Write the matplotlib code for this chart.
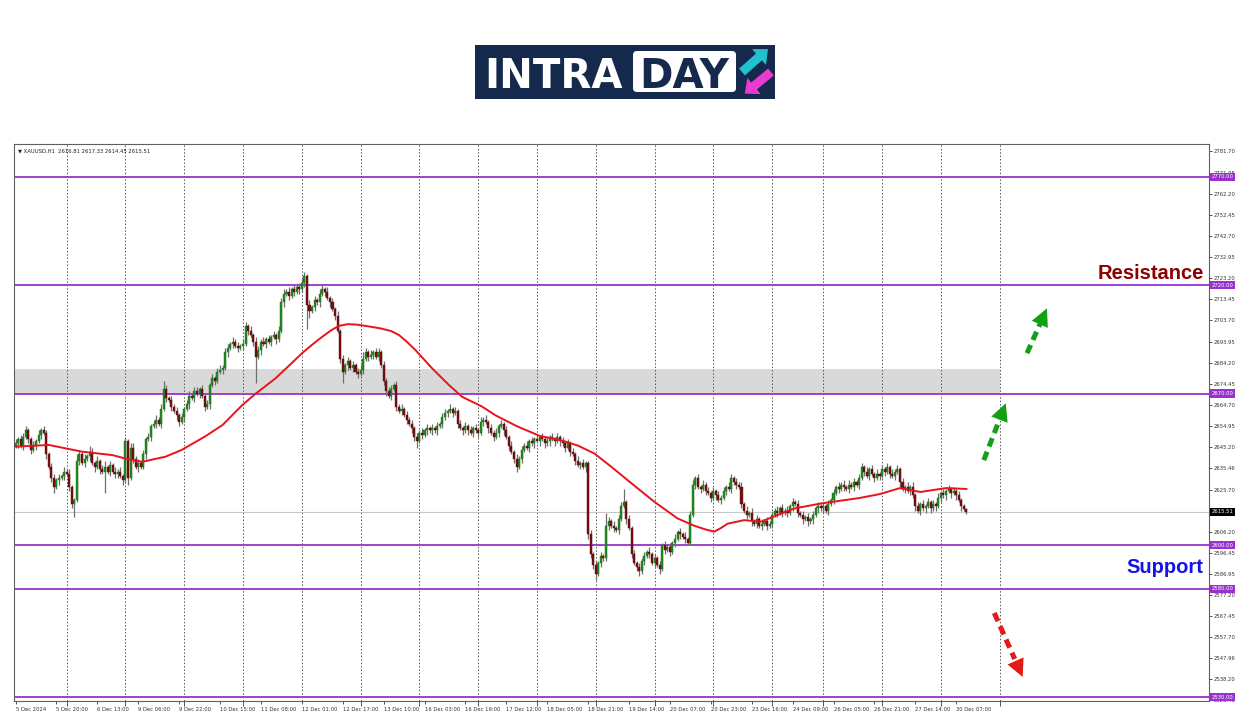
import numpy as np
import matplotlib.pyplot as plt
import matplotlib.transforms as mtransforms
from matplotlib.patches import Rectangle, FancyBboxPatch, FancyArrow

# XAUUSD H1, one value per bar (bar 0 = 5 Dec 04:00, last = 30 Dec 11:00)
first_open = 2646.0
closes = [
    2647, 2649, 2646, 2650, 2653, 2649, 2644, 2646, 2648, 2651,
    2653, 2652, 2642, 2636, 2631, 2627, 2630, 2631, 2632, 2634,
    2633, 2627, 2619, 2621, 2639, 2642, 2638, 2640, 2641, 2643,
    2638, 2636, 2639, 2635, 2634, 2636, 2634, 2637, 2634, 2633,
    2634, 2632, 2630, 2648, 2631, 2645, 2640, 2636, 2638, 2636,
    2642, 2649, 2650, 2655, 2656, 2658, 2656, 2663, 2672, 2668,
    2667, 2664, 2662, 2660, 2657, 2659, 2663, 2665, 2669, 2668,
    2671, 2670, 2672, 2669, 2664, 2665, 2674, 2677, 2676, 2680,
    2681, 2682, 2689, 2691, 2693, 2694, 2692, 2691, 2692, 2693,
    2701, 2699, 2697, 2694, 2687, 2690, 2694, 2693, 2695, 2694,
    2696, 2697, 2695, 2699, 2712, 2716, 2717, 2715, 2718, 2717,
    2719, 2718, 2721, 2724, 2711, 2708, 2710, 2713, 2712, 2716,
    2718, 2717, 2714, 2712, 2709, 2706, 2699, 2686, 2680, 2683,
    2685, 2682, 2683, 2680, 2679, 2681, 2686, 2689, 2687, 2688,
    2689, 2687, 2689, 2683, 2676, 2671, 2669, 2672, 2674, 2664,
    2662, 2663, 2660, 2658, 2656, 2654, 2650, 2648, 2652, 2651,
    2653, 2654, 2653, 2654, 2653, 2655, 2656, 2659, 2661, 2662,
    2663, 2661, 2662, 2656, 2654, 2653, 2655, 2653, 2652, 2654,
    2653, 2652, 2657, 2658, 2657, 2654, 2652, 2650, 2652, 2655,
    2656, 2653, 2650, 2646, 2643, 2640, 2636, 2640, 2644, 2646,
    2645, 2648, 2647, 2649, 2648, 2650, 2649, 2647, 2648, 2650,
    2649, 2648, 2650, 2648, 2647, 2645, 2647, 2643, 2642, 2639,
    2637, 2638, 2636, 2638, 2605, 2596, 2591, 2587, 2592, 2595,
    2594, 2609, 2611, 2609, 2608, 2607, 2612, 2618, 2620, 2612,
    2608, 2596, 2592, 2590, 2588, 2593, 2595, 2597, 2596, 2592,
    2594, 2591, 2589, 2600, 2598, 2599, 2597, 2601, 2603, 2606,
    2605, 2604, 2603, 2601, 2614, 2628, 2631, 2627, 2626, 2628,
    2625, 2624, 2622, 2625, 2623, 2621, 2622, 2625, 2627, 2626,
    2631, 2629, 2628, 2627, 2619, 2616, 2614, 2615, 2611, 2610,
    2612, 2609, 2610, 2611, 2609, 2610, 2614, 2616, 2615, 2617,
    2615, 2616, 2615, 2618, 2620, 2619, 2615, 2614, 2612, 2613,
    2611, 2612, 2614, 2617, 2618, 2617, 2618, 2616, 2619, 2621,
    2624, 2627, 2626, 2628, 2627, 2626, 2628, 2627, 2629, 2628,
    2631, 2636, 2634, 2632, 2635, 2633, 2631, 2633, 2632, 2635,
    2634, 2636, 2633, 2632, 2634, 2635, 2629, 2626, 2627, 2625,
    2627, 2623, 2618, 2616, 2619, 2617, 2618, 2620, 2617, 2619,
    2618, 2622, 2624, 2623, 2625, 2626, 2624, 2625, 2623, 2621,
    2618, 2616.81, 2615.51,
]
up_wick = [
    2, 1, 2, 2, 2, 1, 1, 2, 1, 2,  1, 2, 1, 1, 2, 2, 1, 2, 1, 2,
    1, 2, 1, 1, 3, 2, 1, 2, 1, 3,  2, 1, 2, 1, 2, 3, 1, 2, 1, 2,
    1, 2, 1, 2, 1, 2, 2, 1, 2, 1,  2, 1, 2, 1, 2, 2, 1, 2, 4, 2,
    1, 2, 1, 2, 1, 2, 1, 2, 2, 1,  2, 2, 1, 2, 1, 2, 1, 2, 1, 2,
    2, 1, 2, 2, 1, 2, 1, 2, 1, 2,  2, 1, 2, 1, 2, 2, 1, 2, 1, 2,
    1, 2, 1, 2, 2, 2, 1, 2, 1, 2,  1, 2, 2, 2, 1, 2, 1, 2, 1, 2,
    2, 1, 2, 1, 2, 1, 2, 1, 2, 1,  2, 1, 2, 1, 2, 2, 3, 2, 1, 2,
    1, 2, 2, 1, 2, 1, 2, 2, 1, 2,  1, 2, 1, 2, 1, 2, 1, 2, 1, 2,
    1, 2, 1, 2, 1, 2, 1, 2, 2, 1,  2, 1, 2, 1, 2, 1, 2, 1, 2, 1,
    2, 1, 2, 1, 2, 1, 2, 1, 2, 1,  2, 1, 2, 1, 2, 1, 2, 1, 2, 1,
    2, 1, 2, 1, 2, 1, 2, 1, 2, 1,  2, 1, 2, 1, 2, 1, 2, 1, 2, 1,
    2, 1, 2, 1, 1, 2, 1, 2, 1, 2,  1, 6, 2, 1, 2, 1, 2, 2, 6, 1,
    2, 1, 2, 1, 2, 1, 2, 1, 2, 1,  2, 1, 2, 1, 2, 1, 2, 1, 2, 1,
    2, 1, 2, 1, 2, 2, 1, 2, 1, 2,  1, 2, 1, 2, 1, 2, 1, 2, 1, 2,
    2, 1, 2, 1, 2, 1, 2, 1, 2, 1,  2, 1, 2, 1, 2, 1, 2, 1, 2, 1,
    2, 1, 2, 1, 2, 1, 2, 1, 2, 1,  2, 1, 2, 1, 2, 1, 2, 1, 2, 1,
    2, 1, 2, 1, 2, 1, 2, 1, 2, 1,  2, 2, 1, 2, 1, 2, 1, 2, 1, 2,
    1, 2, 1, 2, 1, 2, 1, 2, 1, 2,  1, 2, 1, 2, 1, 2, 1, 2, 1, 2,
    1, 2, 1, 2, 1, 2, 1, 2, 1, 2,  1, 1, 0.52,
]
dn_wick = [
    1, 2, 1, 2, 1, 2, 2, 1, 2, 1,  2, 1, 2, 1, 2, 3, 1, 2, 1, 2,
    1, 2, 2, 6, 1, 2, 1, 2, 1, 2,  1, 2, 1, 2, 1, 10, 1, 2, 1, 2,
    2, 1, 2, 1, 3, 1, 2, 1, 2, 1,  1, 2, 1, 2, 1, 2, 1, 2, 1, 2,
    1, 2, 1, 2, 2, 1, 2, 1, 2, 1,  2, 1, 2, 1, 2, 1, 2, 1, 2, 1,
    1, 2, 1, 2, 1, 2, 1, 2, 1, 2,  1, 2, 1, 2, 12, 1, 2, 1, 2, 1,
    2, 1, 2, 1, 1, 2, 1, 2, 1, 2,  1, 2, 1, 2, 11, 3, 1, 2, 1, 2,
    1, 2, 1, 2, 1, 2, 1, 2, 5, 1,  2, 1, 2, 1, 2, 1, 2, 1, 2, 1,
    2, 1, 2, 1, 2, 2, 1, 2, 1, 2,  1, 2, 1, 2, 1, 2, 2, 3, 1, 2,
    1, 2, 1, 2, 1, 2, 1, 2, 1, 2,  1, 2, 1, 2, 1, 2, 1, 2, 1, 2,
    1, 2, 1, 2, 1, 2, 1, 2, 1, 2,  1, 2, 1, 2, 1, 2, 2, 1, 2, 1,
    1, 2, 1, 2, 1, 2, 1, 2, 1, 2,  1, 2, 1, 2, 1, 2, 1, 2, 1, 2,
    1, 2, 1, 2, 2, 2, 2, 3, 1, 2,  1, 1, 2, 1, 2, 1, 2, 1, 1, 2,
    1, 2, 1, 2, 2, 1, 2, 1, 2, 1,  2, 1, 2, 1, 2, 1, 2, 1, 2, 1,
    2, 1, 2, 1, 1, 1, 2, 1, 2, 1,  2, 1, 2, 1, 2, 1, 2, 1, 2, 1,
    2, 1, 2, 1, 2, 1, 2, 1, 2, 1,  2, 1, 2, 1, 2, 1, 2, 1, 2, 1,
    2, 1, 2, 1, 2, 1, 2, 1, 2, 1,  2, 1, 2, 1, 2, 1, 2, 1, 2, 1,
    2, 1, 2, 1, 2, 1, 2, 1, 2, 1,  2, 1, 2, 1, 2, 1, 2, 1, 2, 1,
    2, 1, 2, 1, 2, 1, 2, 1, 2, 1,  2, 1, 2, 1, 2, 1, 2, 1, 2, 1,
    2, 1, 2, 1, 2, 1, 2, 1, 2, 1,  2, 1, 1.06,
]

# red moving average
ma_bar = [0, 13, 26, 38, 43, 49.5, 58.7, 65, 74, 81, 88.7, 94, 101.7, 108,
          112, 116, 120, 123.5, 126.5, 130, 133.5, 137, 143, 147, 150, 153,
          156.5, 163, 169.5, 174.7, 182.5, 187.7, 196, 205, 213.4, 220,
          226.4, 233, 239.5, 250, 259, 265.6, 270, 273.4, 276, 278.6, 285,
          291.6, 298.2, 304.7, 315.1, 330, 338, 346, 354, 364, 372]
ma_val = [2645.5, 2646.3, 2643.2, 2641.6, 2640.0, 2638.5, 2640.9, 2644.0,
          2650.1, 2655.5, 2664.7, 2670.0, 2677.0, 2684.0, 2688.5, 2692.5,
          2696.2, 2699.2, 2701.2, 2702.0, 2701.8, 2701.2, 2700.0, 2698.8,
          2697.0, 2694.0, 2690.0, 2681.6, 2674.0, 2668.5, 2664.0, 2660.0,
          2655.0, 2650.5, 2648.5, 2646.0, 2642.4, 2636.3, 2630.0, 2620.0,
          2612.4, 2609.0, 2607.3, 2606.3, 2608.0, 2610.0, 2611.6, 2610.9,
          2614.0, 2617.0, 2619.3, 2621.8, 2623.6, 2626.4, 2624.6, 2626.4,
          2626.0]

levels = [2770, 2720, 2670, 2600, 2580, 2530]
zone = (2670, 2681.5)
zone_end = 385
last_price = 2615.51
header = "\u25bc XAUUSD,H1  2616.81 2617.33 2614.45 2615.51"

day_starts = [20, 43, 66, 89, 112, 135, 158, 181, 204, 227, 250, 273, 296,
              316, 339, 362, 385]
date_labels = ["5 Dec 2024", "5 Dec 20:00", "6 Dec 13:00", "9 Dec 06:00",
               "9 Dec 22:00", "10 Dec 15:00", "11 Dec 08:00", "12 Dec 01:00",
               "12 Dec 17:00", "13 Dec 10:00", "16 Dec 03:00", "16 Dec 19:00",
               "17 Dec 12:00", "18 Dec 05:00", "18 Dec 21:00", "19 Dec 14:00",
               "20 Dec 07:00", "20 Dec 23:00", "23 Dec 16:00", "24 Dec 09:00",
               "26 Dec 05:00", "26 Dec 21:00", "27 Dec 14:00", "30 Dec 07:00"]
label_step = 16

price_labels = ["2781.70", "2771.95", "2762.20", "2752.45", "2742.70",
                "2732.95", "2723.20", "2713.45", "2703.70", "2693.95",
                "2684.20", "2674.45", "2664.70", "2654.95", "2645.20",
                "2635.46", "2625.70", "2615.95", "2606.20", "2596.45",
                "2586.95", "2577.20", "2567.45", "2557.70", "2547.96",
                "2538.20", "2528.45"]

# (bar0, price0, bar1, price1, colour) of the dashed forecast arrows
arrows = [(378.8, 2639.3, 387.4, 2665.5, "#14a014"),
          (395.7, 2688.6, 403.5, 2709.3, "#14a014"),
          (382.9, 2568.8, 394.0, 2539.3, "#e41a1a")]

PURPLE = "#9932CC"
NAVY = "#15294d"

plt.rcParams['font.family'] = ['DejaVu Sans']

closes = np.array(closes, dtype=float)
opens = np.r_[first_open, closes[:-1]]
highs = np.maximum(opens, closes) + np.array(up_wick, dtype=float)
lows = np.minimum(opens, closes) - np.array(dn_wick, dtype=float)
idx = np.arange(len(closes))

fig = plt.figure(figsize=(12.5, 7.16), dpi=100)
ax = fig.add_axes([14 / 1250, 15 / 716, 1195 / 1250, 557 / 716])
ax.set_xlim(-0.6, 466.9)
ax.set_ylim(2528.2, 2785.1)

# zone + levels
ax.add_patch(Rectangle((-0.6, zone[0]), zone_end + 0.6, zone[1] - zone[0],
                       facecolor="#d9d9d9", edgecolor="none", zorder=0))
for d in day_starts:
    ax.axvline(d, color="#555555", lw=0.7, ls=(0, (1.5, 2)), zorder=1)
ax.axhline(last_price, color="#c8c8c8", lw=0.8, zorder=1)
for lv in levels:
    ax.axhline(lv, color=PURPLE, lw=1.3, zorder=2)

# candles
bull = closes >= opens
body = np.maximum(np.abs(closes - opens), 0.4)
ax.vlines(idx, lows, highs, color="#6e6e6e", lw=0.9, zorder=3)
ax.bar(idx[bull], body[bull], bottom=np.minimum(opens, closes)[bull],
       width=0.8, color="#1c8c1c", edgecolor="#1c6e1c", linewidth=0.3, zorder=4)
ax.bar(idx[~bull], body[~bull], bottom=np.minimum(opens, closes)[~bull],
       width=0.8, color="#780f0f", edgecolor="#5a0a0a", linewidth=0.3, zorder=4)

ax.plot(ma_bar, ma_val, color="#e8141b", lw=1.4, zorder=5)

# forecast arrows
for x0, y0, x1, y1, col in arrows:
    xm, ym = x0 + 0.72 * (x1 - x0), y0 + 0.72 * (y1 - y0)
    ax.plot([x0, xm], [y0, ym], color=col, lw=3.6, ls=(0, (1.8, 1.1)),
            solid_capstyle='butt', zorder=6)
    ax.annotate("", xy=(x1, y1), xytext=(xm, ym),
                arrowprops=dict(arrowstyle="-|>,head_length=0.9,head_width=0.45",
                                color=col, lw=0, mutation_scale=14,
                                shrinkA=0, shrinkB=0), zorder=6)

# axes look
for s in ax.spines.values():
    s.set_color("#606060")
    s.set_linewidth(0.8)
ax.yaxis.tick_right()
ax.set_yticks([float(p) for p in price_labels])
ax.set_yticklabels(price_labels)
ax.tick_params(axis='y', labelsize=3.8, length=2, width=0.6, pad=1.5,
               colors="#333333")
ax.set_xticks([i * label_step for i in range(len(date_labels))])
ax.set_xticklabels(date_labels)
ax.set_xticks(day_starts, minor=True)
ax.tick_params(axis='x', which='major', labelsize=3.8, length=2, width=0.6,
               pad=2, colors="#333333")
ax.tick_params(axis='x', which='minor', length=3.5, width=0.6, colors="#333333")
for lab in ax.get_xticklabels():
    lab.set_ha('left')

side = mtransforms.blended_transform_factory(ax.transAxes, ax.transData)
for lv in levels:
    ax.text(1.002, lv, "%.2f" % lv, transform=side, fontsize=3.8, color="white",
            va='center', ha='left', zorder=10, clip_on=False,
            bbox=dict(boxstyle='square,pad=0.3', fc=PURPLE, ec='none'))
ax.text(1.002, last_price, "%.2f" % last_price, transform=side, fontsize=3.8,
        color="white", va='center', ha='left', zorder=10, clip_on=False,
        bbox=dict(boxstyle='square,pad=0.3', fc="black", ec='none'))

ax.text(0.003, 0.993, header, transform=ax.transAxes, fontsize=3.8,
        color="#222222", va='top', ha='left')

ax.text(0.9955, 2725.5, "Resistance", transform=side, fontsize=14.5,
        fontweight='bold', family=['Liberation Sans', 'DejaVu Sans'],
        color="#8b0000", ha='right', va='center')
ax.text(0.9955, 2590.0, "Support", transform=side, fontsize=14.5,
        fontweight='bold', family=['Liberation Sans', 'DejaVu Sans'],
        color="#1414e6", ha='right', va='center')

# logo (pixel coordinates, y from the top)
px = mtransforms.Affine2D().scale(1, -1).translate(0, 716)
fig.add_artist(Rectangle((475, 45), 300, 54, transform=px, fc=NAVY, ec='none'))
fig.add_artist(FancyBboxPatch((633, 51), 103, 41, transform=px,
                              boxstyle="round,pad=0,rounding_size=4",
                              fc="white", ec='none'))
fig.text(484, 72, "INTRA", transform=px, fontsize=29, fontweight='bold',
         color="white", ha='left', va='center_baseline')
fig.text(684, 72, "DAY", transform=px, fontsize=29, fontweight='bold',
         color=NAVY, ha='center', va='center_baseline')
fig.add_artist(FancyArrow(742, 72, 17, -15, width=9, head_width=21,
                          head_length=12, transform=px, fc="#22c1cc", ec='none'))
fig.add_artist(FancyArrow(771, 72, -17, 14, width=9, head_width=21,
                          head_length=12, transform=px, fc="#e83bd0", ec='none'))

fig.savefig("out.png", dpi=100)
